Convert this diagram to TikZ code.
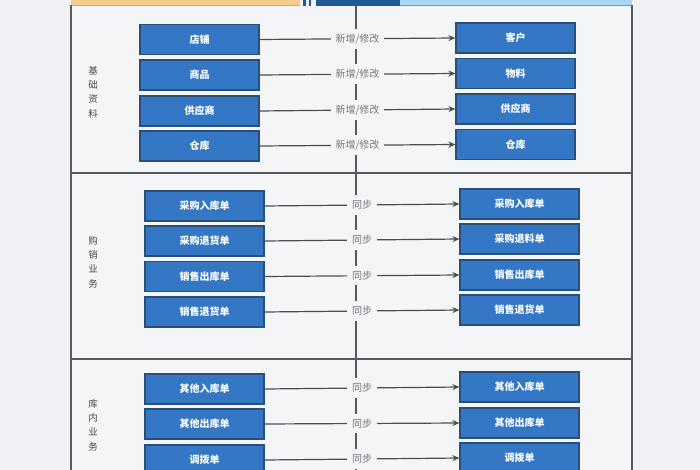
\documentclass[tikz,border=0pt]{standalone}
\usepackage{fontspec}
\newfontfamily\cjk{Noto Sans CJK SC}
\usetikzlibrary{arrows.meta}
\definecolor{pagebg}{HTML}{EFF1F4}
\definecolor{framebg}{HTML}{F4F5F7}
\definecolor{frameline}{HTML}{555A60}
\definecolor{arrowline}{HTML}{4A4E54}
\definecolor{boxfill}{HTML}{3478C5}
\definecolor{boxline}{HTML}{2B4E78}
\definecolor{labgray}{HTML}{74797F}
\definecolor{secgray}{HTML}{45494E}
\definecolor{hdorange}{HTML}{F6CB8E}
\definecolor{hdorangeline}{HTML}{D6A869}
\definecolor{hdblue}{HTML}{A9D6F3}
\definecolor{hdblueline}{HTML}{5E9ED2}
\definecolor{hddark}{HTML}{1F5A96}
\tikzset{
  sysbox/.style={draw=boxline, line width=1.2pt, fill=boxfill, minimum width=119pt, minimum height=30pt, inner sep=0pt, text=white, font=\cjk\bfseries\fontsize{10}{12}\selectfont},
  flowlab/.style={fill=framebg, inner xsep=5pt, inner ysep=5pt, text=labgray, font=\cjk\fontsize{10}{12}\selectfont},
  flow/.style={draw=arrowline, line width=1.2pt, -{Stealth[length=7pt,width=6pt]}},
  seclab/.style={align=center, text=secgray, font=\cjk\fontsize{9.5}{14.3}\selectfont, inner sep=0pt},
  divline/.style={draw=frameline, line width=1.2pt}
}
\begin{document}
\begin{tikzpicture}[x=1pt,y=-1pt]
\useasboundingbox (0,0) rectangle (700,470);
\fill[pagebg] (0,0) rectangle (700,470);
% frame
\fill[framebg] (71,5) rectangle (632,480);
% header
\fill[hdorange] (71,-2) rectangle (300,5);
\draw[hdorangeline, line width=0.8pt] (71,5) -- (300,5);
\fill[hdblue] (400,-2) rectangle (632,5);
\draw[hdblueline, line width=0.8pt] (400,5) -- (632,5);
\fill[hddark] (316,-2) rectangle (400,6);
\fill[hddark] (303,-2) rectangle (305.5,6);
\fill[hddark] (308.5,-2) rectangle (311,6);
% frame lines
\draw[divline] (71,5) -- (71,480);
\draw[divline] (632,5) -- (632,480);
\draw[divline] (71,173) -- (632,173);
\draw[divline] (71,359) -- (632,359);
% centre line
\coordinate (ctop) at (356,5);
\coordinate (cbot) at (356,480);
\draw[divline] (ctop) -- (cbot);
% section labels
\node[seclab] (s1) at (93,92) {基\\础\\资\\料};
\node[seclab] (s2) at (93,262) {购\\销\\业\\务};
\node[seclab] (s3) at (93,425) {库\\内\\业\\务};
% section 1
\node[sysbox] (a1) at (199.5,39.5) {店铺};
\node[sysbox] (a2) at (199.5,75) {商品};
\node[sysbox] (a3) at (199.5,111) {供应商};
\node[sysbox] (a4) at (199.5,146) {仓库};
\node[sysbox] (b1) at (515.5,38) {客户};
\node[sysbox] (b2) at (515.5,73.5) {物料};
\node[sysbox] (b3) at (515.5,109) {供应商};
\node[sysbox] (b4) at (515.5,144.5) {仓库};
\foreach \i in {1,...,4}{
  \draw[flow] (a\i.east) -- node[flowlab] {新增/修改} (b\i.west);
}
% section 2
\node[sysbox] (c1) at (204.5,206) {采购入库单};
\node[sysbox] (c2) at (204.5,241) {采购退货单};
\node[sysbox] (c3) at (204.5,276.5) {销售出库单};
\node[sysbox] (c4) at (204.5,312) {销售退货单};
\node[sysbox] (d1) at (519.5,204) {采购入库单};
\node[sysbox] (d2) at (519.5,239) {采购退料单};
\node[sysbox] (d3) at (519.5,275) {销售出库单};
\node[sysbox] (d4) at (519.5,310) {销售退货单};
\foreach \i in {1,...,4}{
  \draw[flow] (c\i.east) -- node[flowlab] {同步} (d\i.west);
}
% section 3
\node[sysbox] (e1) at (204.5,389) {其他入库单};
\node[sysbox] (e2) at (204.5,424) {其他出库单};
\node[sysbox] (e3) at (204.5,460) {调拨单};
\node[sysbox] (f1) at (519.5,387) {其他入库单};
\node[sysbox] (f2) at (519.5,423) {其他出库单};
\node[sysbox] (f3) at (519.5,458) {调拨单};
\foreach \i in {1,...,3}{
  \draw[flow] (e\i.east) -- node[flowlab] {同步} (f\i.west);
}
\end{tikzpicture}
\end{document}
